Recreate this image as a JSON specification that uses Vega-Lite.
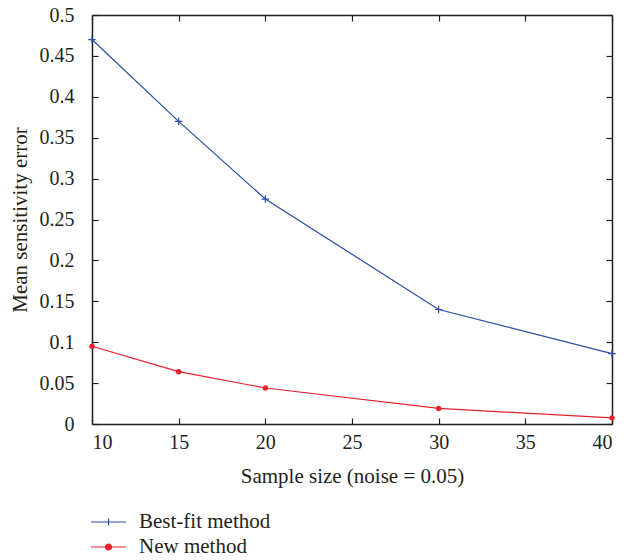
{
  "$schema": "https://vega.github.io/schema/vega-lite/v6.json",
  "width": 520,
  "height": 409,
  "autosize": {"type": "none"},
  "padding": {"left": 92, "top": 15, "right": 20, "bottom": 136},
  "background": "white",
  "config": {
    "view": {"stroke": null},
    "font": "Liberation Serif",
    "axis": {
      "domainColor": "#231f20",
      "domainWidth": 1.5,
      "tickColor": "#231f20",
      "tickWidth": 1.2,
      "tickSize": -6,
      "grid": false,
      "labelFont": "Liberation Serif",
      "labelFontSize": 20,
      "labelColor": "#231f20",
      "titleFont": "Liberation Serif",
      "titleFontSize": 21,
      "titleFontWeight": "normal",
      "titleColor": "#231f20"
    }
  },
  "data": {
    "values": [
      {"method": "Best-fit method", "size": 10, "error": 0.470},
      {"method": "Best-fit method", "size": 15, "error": 0.370},
      {"method": "Best-fit method", "size": 20, "error": 0.275},
      {"method": "Best-fit method", "size": 30, "error": 0.140},
      {"method": "Best-fit method", "size": 40, "error": 0.086},
      {"method": "New method", "size": 10, "error": 0.095},
      {"method": "New method", "size": 15, "error": 0.064},
      {"method": "New method", "size": 20, "error": 0.044},
      {"method": "New method", "size": 30, "error": 0.019},
      {"method": "New method", "size": 40, "error": 0.0075}
    ]
  },
  "layer": [
    {
      "mark": {"type": "line", "strokeWidth": 1.2},
      "encoding": {
        "x": {
          "field": "size", "type": "quantitative",
          "scale": {"domain": [10, 40], "nice": false, "zero": false},
          "axis": {"orient": "bottom", "title": "Sample size (noise = 0.05)", "values": [10, 15, 20, 25, 30, 35, 40], "labelPadding": 14, "titlePadding": 13}
        },
        "y": {
          "field": "error", "type": "quantitative",
          "scale": {"domain": [0, 0.5], "nice": false},
          "axis": {"orient": "left", "title": "Mean sensitivity error", "values": [0, 0.05, 0.1, 0.15, 0.2, 0.25, 0.3, 0.35, 0.4, 0.45, 0.5], "format": "~g", "labelPadding": 24, "titlePadding": 9}
        },
        "color": {
          "field": "method", "type": "nominal",
          "scale": {"domain": ["Best-fit method", "New method"], "range": ["#2b4ca8", "#e8202a"]},
          "legend": {
            "orient": "none",
            "legendX": 5.5,
            "legendY": 496,
            "title": null,
            "padding": 0,
            "symbolSize": 400,
            "symbolStrokeWidth": 1.2,
            "labelOffset": 19.5,
            "rowPadding": 4,
            "labelFont": "Liberation Serif",
            "labelFontSize": 21,
            "labelColor": "#231f20",
            "encode": {
              "symbols": {
                "update": {
                  "shape": {"signal": "datum.value === 'New method' ? 'M-1.75,0H1.75M-0.3,0A0.3,0.3 0 1,0 0.3,0A0.3,0.3 0 1,0 -0.3,0' : 'M-1.75,0H1.75M0,-0.35V0.35'"},
                  "fill": {"signal": "datum.value === 'New method' ? '#e8202a' : 'transparent'"}
                }
              }
            }
          }
        }
      }
    },
    {
      "transform": [{"filter": "datum.method === 'Best-fit method'"}],
      "mark": {"type": "point", "shape": "M-1,0H1M0,-1V1", "size": 56, "filled": false, "strokeWidth": 1.2, "color": "#2b4ca8", "opacity": 1},
      "encoding": {
        "x": {"field": "size", "type": "quantitative", "scale": {"domain": [10, 40], "nice": false, "zero": false},
              "axis": {"orient": "top", "title": null, "labels": false, "values": [10, 15, 20, 25, 30, 35, 40]}},
        "y": {"field": "error", "type": "quantitative", "scale": {"domain": [0, 0.5], "nice": false},
              "axis": {"orient": "right", "title": null, "labels": false, "values": [0, 0.05, 0.1, 0.15, 0.2, 0.25, 0.3, 0.35, 0.4, 0.45, 0.5]}}
      }
    },
    {
      "transform": [{"filter": "datum.method === 'New method'"}],
      "mark": {"type": "point", "shape": "circle", "size": 30, "filled": true, "color": "#e8202a", "opacity": 1},
      "encoding": {
        "x": {"field": "size", "type": "quantitative", "scale": {"domain": [10, 40], "nice": false, "zero": false}, "axis": null},
        "y": {"field": "error", "type": "quantitative", "scale": {"domain": [0, 0.5], "nice": false}, "axis": null}
      }
    }
  ],
  "resolve": {"axis": {"x": "independent", "y": "independent"}}
}
